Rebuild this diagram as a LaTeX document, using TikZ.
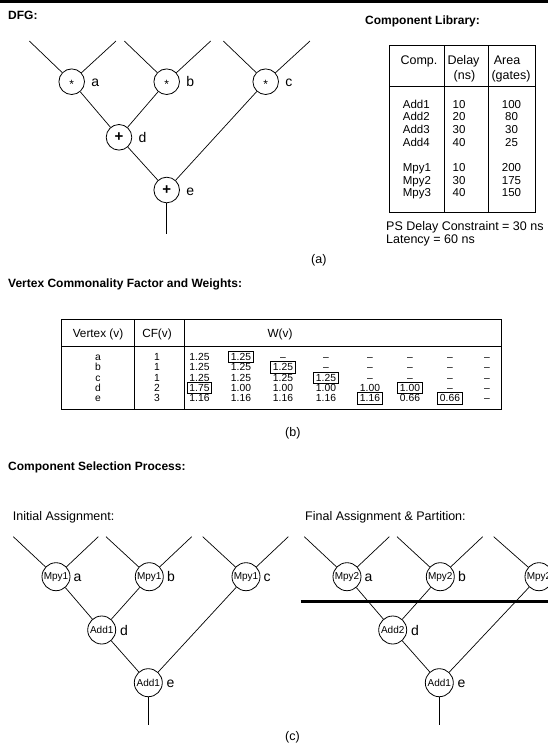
\documentclass[tikz,border=0pt]{standalone}
\usepackage{fontspec}
\setmainfont{Liberation Sans}
\newcommand{\mulsign}{{\fontsize{12}{12}\selectfont\raisebox{-6.9pt}[0pt][0pt]{*}}}
\newcommand{\addsign}{{\fontsize{15}{15}\selectfont\bfseries +}}
\begin{document}
\begin{tikzpicture}[x=1pt,y=-1pt,
    op/.style={circle,draw,line width=0.8pt,inner sep=0pt,minimum size=25.6pt},
    unit/.style={circle,draw,line width=0.8pt,inner sep=0pt,minimum size=28pt,font=\fontsize{10}{12}\selectfont},
    wire/.style={line width=0.7pt},
    lbl/.style={anchor=base west,inner sep=0pt,font=\fontsize{14}{16}\selectfont},
    title/.style={anchor=base west,inner sep=0pt,font=\fontsize{12}{14}\selectfont\bfseries},
    txt/.style={anchor=base west,inner sep=0pt,font=\fontsize{12.5}{15}\selectfont},
    ctxt/.style={txt,anchor=base},
    comp/.style={anchor=base west,inner sep=0pt,font=\fontsize{11.5}{13}\selectfont},
    wcell/.style={inner xsep=2.2pt,inner ysep=1.8pt,text height=7.4pt,text depth=0.4pt,font=\fontsize{10.3}{12}\selectfont},
    wbox/.style={wcell,draw,line width=0.8pt},
    frame/.style={line width=0.9pt}]
  \useasboundingbox (0,0) rectangle (548,745);
  % draw rule on top of the page
  \fill (0,0) rectangle (548,2.6);
  \node[title] (t-dfg) at (8,19) {DFG:};
  \node[title] (t-lib) at (365,24) {Component Library:};
  % draw the DFG
  \node[op] (a) at (71.7,81.7) {\mulsign};
  \node[op] (b) at (166.7,81.7) {\mulsign};
  \node[op] (c) at (265.7,81.7) {\mulsign};
  \node[op] (d) at (119,137.3) {\addsign};
  \node[op] (e) at (166.7,190) {\addsign};
  \node[lbl] (l-a) at (91.2,86.7) {a};
  \node[lbl] (l-b) at (186.2,86.7) {b};
  \node[lbl] (l-c) at (285.2,86.7) {c};
  \node[lbl] (l-d) at (138.5,142.3) {d};
  \node[lbl] (l-e) at (186.2,195) {e};
  \coordinate (a-l) at (29.3,41);  \coordinate (a-r) at (116,41);
  \coordinate (b-l) at (124.3,41); \coordinate (b-r) at (210.7,41);
  \coordinate (c-l) at (223.3,41); \coordinate (c-r) at (310,41);
  \coordinate (e-o) at (166.7,234);
  \draw[wire] (a-l) -- (a); \draw[wire] (a-r) -- (a);
  \draw[wire] (b-l) -- (b); \draw[wire] (b-r) -- (b);
  \draw[wire] (c-l) -- (c); \draw[wire] (c-r) -- (c);
  \draw[wire] (a) -- (d); \draw[wire] (b) -- (d);
  \draw[wire] (d) -- (e); \draw[wire] (c) -- (e);
  \draw[wire] (e) -- (e-o);
  \node[txt] (cap-a) at (311,263) {(a)};
  % draw the component library
  \draw[frame] (389.3,45.7) rectangle (535,212.7);
  \draw[frame] (444.3,45.7) -- (444.3,212.7);
  \draw[frame] (488.3,45.7) -- (488.3,212.7);
  \draw[frame] (389.3,86.7) -- (535,86.7);
  \node[ctxt] (h-comp) at (419,64) {Comp.};
  \node[ctxt] (h-delay) at (463.5,64) {Delay};
  \node[ctxt] (h-ns) at (464.5,79) {(ns)};
  \node[ctxt] (h-area) at (507,64) {Area};
  \node[ctxt] (h-gates) at (511,79) {(gates)};
  \foreach \cname/\dl/\ar/\yy in {Add1/10/100/108,Add2/20/80/120.7,Add3/30/30/133.4,Add4/40/25/146.1,
      Mpy1/10/200/171.5,Mpy2/30/175/184.2,Mpy3/40/150/196.9}
  {
    \node[comp] (n-\cname) at (402.7,\yy) {\cname};
    \node[comp] (dl-\cname) at (452.5,\yy) {\dl};
    \node[comp,anchor=base] (ar-\cname) at (511.5,\yy) {\ar};
  }
  \node[txt] (ps) at (386,230) {PS Delay Constraint = 30 ns};
  \node[txt] (lat) at (386,243) {Latency = 60 ns};
  % draw the weights table
  \node[title] (t-vcf) at (8,287) {Vertex Commonality Factor and Weights:};
  \draw[frame] (61.7,319) rectangle (501,409);
  \draw[frame] (134,319) -- (134,409);
  \draw[frame] (184,319) -- (184,409);
  \draw[frame] (61.7,346) -- (501,346);
  \node[ctxt,font=\fontsize{11.8}{14}\selectfont] (h-v) at (98,337) {Vertex (v)};
  \node[ctxt,font=\fontsize{11.8}{14}\selectfont] (h-cf) at (157,337) {CF(v)};
  \node[ctxt,font=\fontsize{11.8}{14}\selectfont] (h-w) at (280,337) {W(v)};
  \foreach \vx/\cf/\yy in {a/1/357,b/1/367.3,c/1/377.6,d/2/387.9,e/3/398.2}
  {
    \node[wcell] (v-\vx) at (98,\yy) {\vx};
    \node[wcell] (cf-\vx) at (157,\yy) {\cf};
  }
  % row a
  \foreach \w/\s [count=\i] in {1.25/wcell,1.25/wbox,–/wcell,–/wcell,–/wcell,–/wcell,–/wcell,–/wcell}
  {
    \pgfmathsetmacro\xx{{199.5,241,283,326,370,410,450,487}[\i-1]}
    \node[\s] (w-a-\i) at (\xx,357) {\w};
  }
  % row b
  \foreach \w/\s [count=\i] in {1.25/wcell,1.25/wcell,1.25/wbox,–/wcell,–/wcell,–/wcell,–/wcell,–/wcell}
  {
    \pgfmathsetmacro\xx{{199.5,241,283,326,370,410,450,487}[\i-1]}
    \node[\s] (w-b-\i) at (\xx,367.3) {\w};
  }
  % row c
  \foreach \w/\s [count=\i] in {1.25/wcell,1.25/wcell,1.25/wcell,1.25/wbox,–/wcell,–/wcell,–/wcell,–/wcell}
  {
    \pgfmathsetmacro\xx{{199.5,241,283,326,370,410,450,487}[\i-1]}
    \node[\s] (w-c-\i) at (\xx,377.6) {\w};
  }
  % row d
  \foreach \w/\s [count=\i] in {1.75/wbox,1.00/wcell,1.00/wcell,1.00/wcell,1.00/wcell,1.00/wbox,–/wcell,–/wcell}
  {
    \pgfmathsetmacro\xx{{199.5,241,283,326,370,410,450,487}[\i-1]}
    \node[\s] (w-d-\i) at (\xx,387.9) {\w};
  }
  % row e
  \foreach \w/\s [count=\i] in {1.16/wcell,1.16/wcell,1.16/wcell,1.16/wcell,1.16/wbox,0.66/wcell,0.66/wbox,–/wcell}
  {
    \pgfmathsetmacro\xx{{199.5,241,283,326,370,410,450,487}[\i-1]}
    \node[\s] (w-e-\i) at (\xx,398.2) {\w};
  }
  \node[txt] (cap-b) at (285,436) {(b)};
  % draw the component selection
  \node[title] (t-csp) at (8,470.5) {Component Selection Process:};
  \node[txt] (t-init) at (12.7,520) {Initial Assignment:};
  \node[txt] (t-final) at (305,520) {Final Assignment \& Partition:};
  % initial assignment
  \node[unit] (ia) at (56,576.7) {Mpy1};
  \node[unit] (ib) at (149.3,576.7) {Mpy1};
  \node[unit] (ic) at (246,576.7) {Mpy1};
  \node[unit] (id) at (101.7,630) {Add1};
  \node[unit] (ie) at (148.3,682.7) {Add1};
  \node[lbl] (l-ia) at (73.5,581.7) {a};
  \node[lbl] (l-ib) at (166.8,581.7) {b};
  \node[lbl] (l-ic) at (263.5,581.7) {c};
  \node[lbl] (l-id) at (120,635) {d};
  \node[lbl] (l-ie) at (166.5,687.7) {e};
  \coordinate (ia-l) at (13.3,536.7);  \coordinate (ia-r) at (98.3,536.7);
  \coordinate (ib-l) at (106,536.7);   \coordinate (ib-r) at (191.7,536.7);
  \coordinate (ic-l) at (202.7,536.7); \coordinate (ic-r) at (288.3,536.7);
  \coordinate (ie-o) at (148.3,725);
  \draw[wire] (ia-l) -- (ia); \draw[wire] (ia-r) -- (ia);
  \draw[wire] (ib-l) -- (ib); \draw[wire] (ib-r) -- (ib);
  \draw[wire] (ic-l) -- (ic); \draw[wire] (ic-r) -- (ic);
  \draw[wire] (ia) -- (id); \draw[wire] (ib) -- (id);
  \draw[wire] (id) -- (ie); \draw[wire] (ic) -- (ie);
  \draw[wire] (ie) -- (ie-o);
  % final assignment and partition
  \node[unit] (fa) at (347,576.7) {Mpy2};
  \node[unit] (fb) at (440.3,576.7) {Mpy2};
  \node[unit] (fc) at (539,576.7) {Mpy2};
  \node[unit] (fd) at (392.7,630) {Add2};
  \node[unit] (fe) at (439.3,682.7) {Add1};
  \node[lbl] (l-fa) at (364.5,581.7) {a};
  \node[lbl] (l-fb) at (457.8,581.7) {b};
  \node[lbl] (l-fd) at (411,635) {d};
  \node[lbl] (l-fe) at (457.5,687.7) {e};
  \coordinate (fa-l) at (304.3,536.7); \coordinate (fa-r) at (389.3,536.7);
  \coordinate (fb-l) at (397,536.7);   \coordinate (fb-r) at (482.7,536.7);
  \coordinate (fc-l) at (493.7,536.7); \coordinate (fc-r) at (579.3,536.7);
  \coordinate (fe-o) at (439.3,725);
  \draw[wire] (fa-l) -- (fa); \draw[wire] (fa-r) -- (fa);
  \draw[wire] (fb-l) -- (fb); \draw[wire] (fb-r) -- (fb);
  \draw[wire] (fc-l) -- (fc); \draw[wire] (fc-r) -- (fc);
  \draw[wire] (fa) -- (fd); \draw[wire] (fb) -- (fd);
  \draw[wire] (fd) -- (fe); \draw[wire] (fc) -- (fe);
  \draw[wire] (fe) -- (fe-o);
  \coordinate (p-l) at (300.7,601.7); \coordinate (p-r) at (548,601.7);
  \draw[line width=2.8pt] (p-l) -- (p-r);
  \node[txt] (cap-c) at (285,740.5) {(c)};
\end{tikzpicture}
\end{document}
